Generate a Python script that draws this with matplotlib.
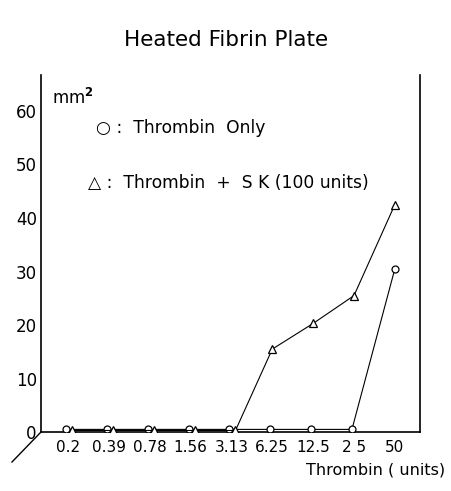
import matplotlib.pyplot as plt
from matplotlib.lines import Line2D

plt.rcParams['font.family'] = ['DejaVu Sans']

doses = ["0.2", "0.39", "0.78", "1.56", "3.13", "6.25", "12.5", "2 5", "50"]
thrombin_only = [0.5, 0.5, 0.5, 0.5, 0.5, 0.5, 0.5, 0.5, 30.5]
thrombin_sk = [0.3, 0.3, 0.3, 0.3, 0.3, 15.5, 20.3, 25.5, 42.5]

fig = plt.figure(figsize=(4.52, 4.91), dpi=100)
ax = fig.add_axes([0.0907, 0.12, 0.838, 0.727])

xs = list(range(len(doses)))
# circles sit slightly left, triangles slightly right where they overlap at zero
x_circ = [i - 0.05 if v < 1 else i for i, v in zip(xs, thrombin_only)]
x_tri = [i + 0.1 if v < 1 else i for i, v in zip(xs, thrombin_sk)]

ax.plot(x_circ, thrombin_only, color='black', lw=0.8, marker='o', ms=5,
        mfc='white', mec='black', mew=0.9, zorder=3)
ax.plot(x_tri, thrombin_sk, color='black', lw=0.8, marker='^', ms=6,
        mfc='white', mec='black', mew=0.9, zorder=3)

ax.set_xlim(-0.66, 8.61)
ax.set_ylim(0, 66.7)
ax.set_xticks(xs)
ax.set_xticklabels(doses, fontsize=11)
ax.set_yticks([0, 10, 20, 30, 40, 50, 60])
ax.set_yticklabels(["0", "10", "20", "30", "40", "50", "60"], fontsize=12)
ax.tick_params(length=0, pad=6)
ax.tick_params(axis='y', pad=3)
ax.spines['top'].set_visible(False)
for s in ['left', 'bottom', 'right']:
    ax.spines[s].set_linewidth(1.2)

ax.text(0.03, 0.935, r"mm$^{\mathbf{2}}$", transform=ax.transAxes, fontsize=12,
        ha='left', va='center')

ax.text(0.145, 0.852, "○ :  Thrombin  Only", transform=ax.transAxes, fontsize=12.3,
        ha='left', va='center')
ax.text(0.125, 0.697, "△ :  Thrombin  +  S K (100 units)", transform=ax.transAxes,
        fontsize=12.3, ha='left', va='center')

fig.text(0.5, 0.918, "Heated Fibrin Plate", ha='center', va='center', fontsize=15.5)
fig.text(0.985, 0.043, "Thrombin ( units)", ha='right', va='center', fontsize=11.5)

fig.add_artist(Line2D([12 / 452, 41 / 452], [1 - 462 / 491, 1 - 432 / 491],
                      color='black', lw=1.0, transform=fig.transFigure))

fig.savefig("out.png", dpi=100)
